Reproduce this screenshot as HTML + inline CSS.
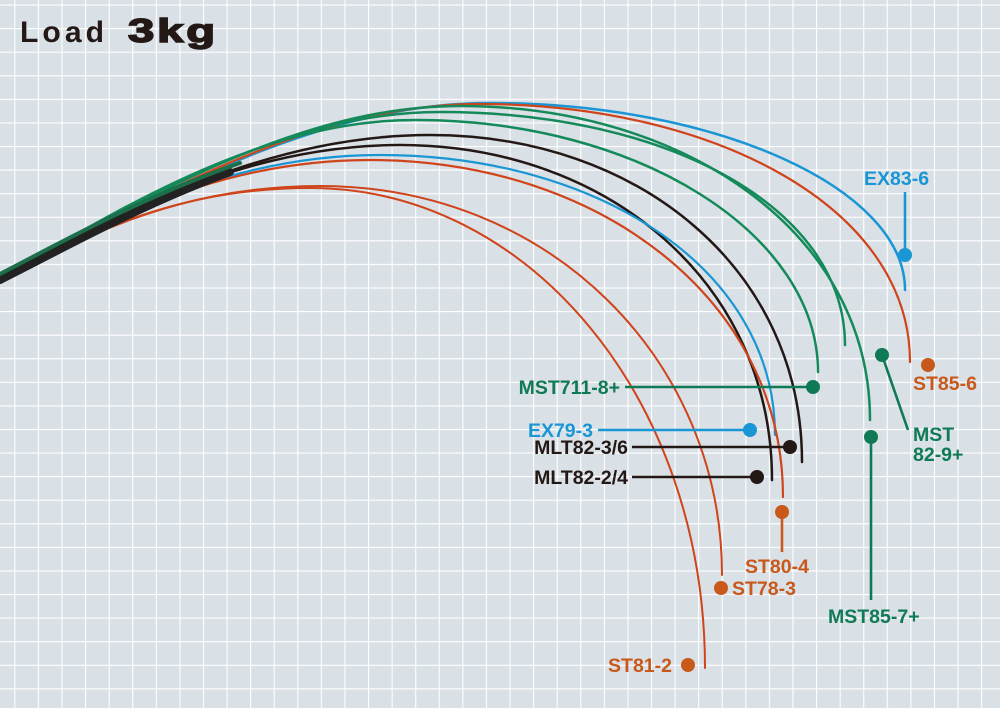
<!DOCTYPE html>
<html><head><meta charset="utf-8"><style>
html,body{margin:0;padding:0;background:#d9e0e6}
svg{display:block}
text{font-family:"Liberation Sans",sans-serif;font-weight:bold}
</style></head><body>
<svg width="1000" height="708" viewBox="0 0 1000 708" xmlns="http://www.w3.org/2000/svg">
<defs>
<pattern id="g" x="14.3" y="4.5" width="23.58" height="23.58" patternUnits="userSpaceOnUse">
<path d="M0 0V23.58M0 0H23.58" stroke="#fff" stroke-width="2.2" fill="none"/>
</pattern>
</defs>
<rect width="1000" height="708" fill="#d9e0e6"/>
<rect width="1000" height="708" fill="url(#g)"/>
<text x="20" y="42" font-size="30" fill="#231815" letter-spacing="4" textLength="88" lengthAdjust="spacingAndGlyphs">Load</text>
<text x="128" y="42" font-size="33" fill="#231815" stroke="#231815" stroke-width="1.5" letter-spacing="2" textLength="90" lengthAdjust="spacingAndGlyphs">3kg</text>
<g fill="none" stroke-linecap="round">
<path d="M0,280 C196,170 343,103 490,103 C716,103 905,188 905,290" stroke="#1a96d4" stroke-width="2.5"/>
<path d="M0,280 C192,171 336,104 480,104 C712,104 910,206 910,362" stroke="#d0441b" stroke-width="2.2"/>
<path d="M0,280 C184,172 322,106 460,106 C688,106 870,235 870,420" stroke="#148a5a" stroke-width="2.5"/>
<path d="M0,280 C176,175 308,112 440,112 C672,112 845,210 845,345" stroke="#148a5a" stroke-width="2.5"/>
<path d="M0,280 C164,178 290,120 415,120 C640,120 818,235 818,372" stroke="#148a5a" stroke-width="2.5"/>
<path d="M0,280 C172,182 300,135 430,135 C640,135 802,270 802,462" stroke="#231815" stroke-width="2.5"/>
<path d="M0,280 C160,186 280,145 400,145 C610,145 772,285 772,480" stroke="#231815" stroke-width="2.5"/>
<path d="M0,280 C152,190 266,155 380,155 C600,155 775,270 775,435" stroke="#1a96d4" stroke-width="2.2"/>
<path d="M0,280 C148,192 259,160 370,160 C600,160 783,300 783,497" stroke="#d0441b" stroke-width="2.2"/>
<path d="M0,282 C132,205 231,186 320,186 C550,186 722,360 722,575" stroke="#d0441b" stroke-width="2"/>
<path d="M0,282 C128,206 224,188 310,188 C530,188 705,400 705,668" stroke="#d0441b" stroke-width="2"/>
<path d="M0,280 C60,250 140,205 230,172" stroke="#222" stroke-width="8"/>
<path d="M0,274 C60,243 140,198 240,163" stroke="#1d6e4a" stroke-width="4"/>
</g>
<g stroke-width="2.6" font-size="19.5">
<line x1="905" y1="192" x2="905" y2="255" stroke="#1a96d4"/>
<circle cx="905" cy="255" r="7" fill="#1a96d4"/>
<text x="864" y="185" fill="#1a96d4">EX83-6</text>

<circle cx="928" cy="365" r="7" fill="#c8591a"/>
<text x="913" y="390" fill="#c8591a">ST85-6</text>

<line x1="625" y1="387" x2="813" y2="387" stroke="#0f7a55"/>
<circle cx="813" cy="387" r="7" fill="#0f7a55"/>
<text x="620" y="394" fill="#0f7a55" text-anchor="end">MST711-8+</text>

<line x1="882" y1="355" x2="908" y2="430" stroke="#0f7a55"/>
<circle cx="882" cy="355" r="7" fill="#0f7a55"/>
<text x="913" y="441" fill="#0f7a55">MST</text>
<text x="913" y="461" fill="#0f7a55">82-9+</text>

<line x1="598" y1="430" x2="750" y2="430" stroke="#1a96d4"/>
<circle cx="750" cy="430" r="7" fill="#1a96d4"/>
<text x="593" y="437" fill="#1a96d4" text-anchor="end">EX79-3</text>

<line x1="632" y1="447" x2="790" y2="447" stroke="#231815"/>
<circle cx="790" cy="447" r="7" fill="#231815"/>
<text x="628" y="454" fill="#231815" text-anchor="end">MLT82-3/6</text>

<line x1="632" y1="477" x2="757" y2="477" stroke="#231815"/>
<circle cx="757" cy="477" r="7" fill="#231815"/>
<text x="628" y="484" fill="#231815" text-anchor="end">MLT82-2/4</text>

<line x1="782" y1="512" x2="782" y2="552" stroke="#c8591a"/>
<circle cx="782" cy="512" r="7" fill="#c8591a"/>
<text x="745" y="573" fill="#c8591a">ST80-4</text>

<line x1="871" y1="437" x2="871" y2="600" stroke="#0f7a55"/>
<circle cx="871" cy="437" r="7" fill="#0f7a55"/>
<text x="828" y="623" fill="#0f7a55">MST85-7+</text>

<circle cx="721" cy="588" r="7" fill="#c8591a"/>
<text x="732" y="595" fill="#c8591a">ST78-3</text>

<circle cx="688" cy="665" r="7" fill="#c8591a"/>
<text x="672" y="672" fill="#c8591a" text-anchor="end">ST81-2</text>
</g>
</svg>
</body></html>
